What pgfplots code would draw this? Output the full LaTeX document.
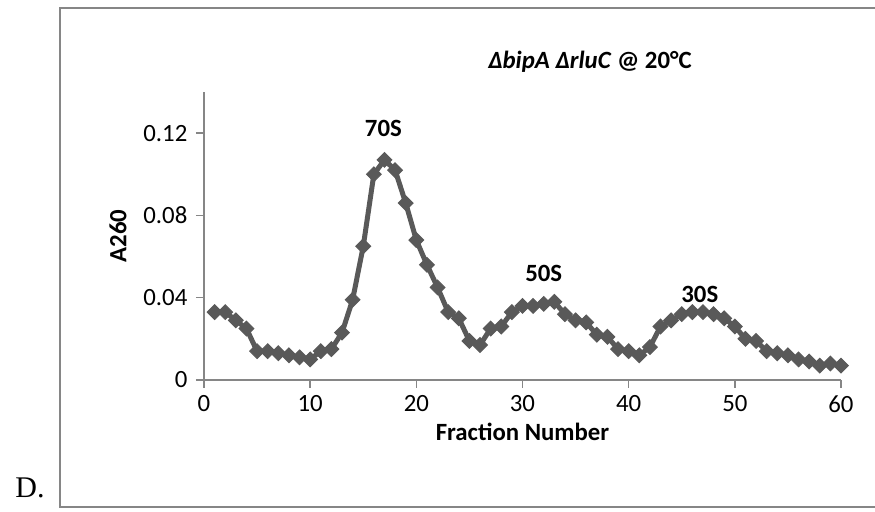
\documentclass[border=0pt]{standalone}
\usepackage{fontspec}
\setmainfont{Carlito}
\newfontfamily\seriffont{Liberation Serif}
\usepackage{pgfplots}
\pgfplotsset{compat=1.18}
\definecolor{lineGray}{RGB}{89,89,89}
\definecolor{axisGray}{RGB}{134,134,134}
\pgfplotstableread{
x y
1 0.033
2 0.033
3 0.029
4 0.025
5 0.014
6 0.014
7 0.013
8 0.012
9 0.011
10 0.010
11 0.014
12 0.015
13 0.023
14 0.039
15 0.065
16 0.100
17 0.107
18 0.102
19 0.086
20 0.068
21 0.056
22 0.045
23 0.033
24 0.030
25 0.019
26 0.017
27 0.025
28 0.026
29 0.033
30 0.036
31 0.036
32 0.037
33 0.038
34 0.032
35 0.029
36 0.028
37 0.022
38 0.021
39 0.015
40 0.014
41 0.012
42 0.016
43 0.026
44 0.029
45 0.032
46 0.033
47 0.033
48 0.032
49 0.030
50 0.026
51 0.020
52 0.019
53 0.014
54 0.013
55 0.012
56 0.010
57 0.009
58 0.007
59 0.008
60 0.007
}\datatable
\begin{document}
\fontsize{12.4pt}{15pt}\selectfont
\begin{tikzpicture}
\useasboundingbox (0,0) rectangle (437.5pt,256pt);
\draw[axisGray, line width=0.8pt] (30pt,2.5pt) rectangle (460pt,252pt);
\node[font=\seriffont\fontsize{15pt}{18pt}\selectfont] at (15pt,12pt) {D.};
\begin{axis}[
  at={(102pt,66pt)}, anchor=south west,
  scale only axis, width=318.5pt, height=144pt,
  xmin=0, xmax=60, ymin=0, ymax=0.14,
  axis x line*=bottom, axis y line*=left,
  axis line style={axisGray, line width=0.7pt},
  tick style={axisGray, line width=0.7pt},
  tick align=outside, major tick length=4pt,
  xtick={0,10,20,30,40,50,60}, xticklabels={0,10,20,30,40,50,60},
  ytick={0,0.04,0.08,0.12}, yticklabels={0,0.04,0.08,0.12},
  ticklabel style={font=\fontsize{12.4pt}{15pt}\selectfont, text=black},
  xticklabel style={yshift=0.7pt},
  xlabel={\textbf{Fraction Number}},
  ylabel={\textbf{A260}},
  xlabel style={yshift=3pt},
  label style={font=\fontsize{12.4pt}{15pt}\selectfont},
  clip=false,
]
\addplot[lineGray, line width=2.5pt, mark=square*, mark size=2.6pt,
  mark options={rotate=45, fill=lineGray, draw=lineGray, line width=0.5pt, solid}]
  table[x=x, y=y] {\datatable};
\node[font=\bfseries\fontsize{12.4pt}{15pt}\selectfont] at (axis cs:16.9,0.1225) {70S};
\node[font=\bfseries\fontsize{12.4pt}{15pt}\selectfont] at (axis cs:32.0,0.052) {50S};
\node[font=\bfseries\fontsize{12.4pt}{15pt}\selectfont] at (axis cs:46.7,0.0418) {30S};
\end{axis}
\node[font=\bfseries\itshape\fontsize{12.4pt}{15pt}\selectfont] at (295pt,225pt) {ΔbipA ΔrluC \textup{@ 20°C}};
\end{tikzpicture}
\end{document}
